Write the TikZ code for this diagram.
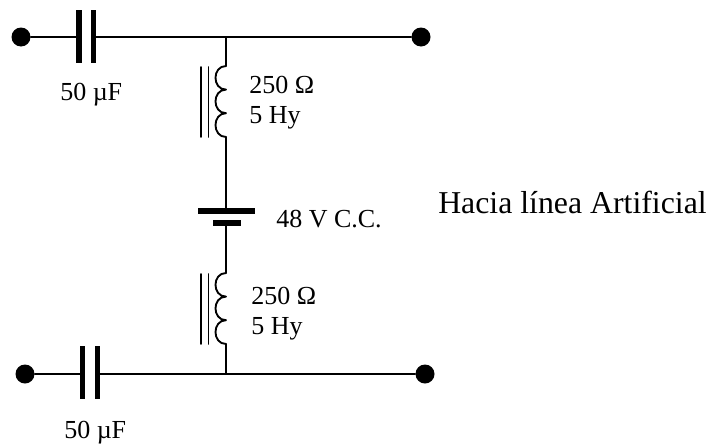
\documentclass[tikz,border=0pt]{standalone}
\usepackage{fontspec}
\setmainfont{Liberation Serif}
\tikzset{
    wire/.style={line width=1.4pt},
    term/.style={circle,fill=black,inner sep=0pt,minimum size=14.25pt},
    capplate/.style={rectangle,fill=black,inner sep=0pt,minimum width=3.9pt,minimum height=39.75pt},
    batplate/.style={rectangle,fill=black,inner sep=0pt,minimum height=3.9pt},
    lab/.style={anchor=base west,inner sep=0pt,font=\fontsize{19.5}{22}\selectfont}
}
\begin{document}
\begin{tikzpicture}[x=0.75pt,y=-0.75pt,line cap=round,line join=round]
    \useasboundingbox(0,0)rectangle(714,443);
    % terminals and capacitors
    \node[term](tl)at(21,37){};
    \node[term](tr)at(421,37){};
    \node[term](bl)at(25,374){};
    \node[term](br)at(425,374){};
    \node[capplate](ca1)at(79,36){};
    \node[capplate](ca2)at(93.5,36){};
    \node[capplate](cb1)at(82.5,372.5){};
    \node[capplate](cb2)at(97.5,372.5){};
    \coordinate(jt)at(226,37);
    \coordinate(jb)at(226,374);
    \draw[wire](tl)--(tl-|ca1.west)(tr-|ca2.east)--(tr);
    \draw[wire](bl)--(bl-|cb1.west)(br-|cb2.east)--(br);
    % battery
    \node[batplate,minimum width=42.75pt](bat1)at(226.5,211){};
    \node[batplate,minimum width=21pt](bat2)at(227,223){};
    % inductors, cusps at the wire
    \foreach \n/\ya/\xc in{a/66/226,b/273/226}{
        \coordinate(l\n1)at(\xc,\ya);
        \coordinate(l\n2)at(\xc,\ya+23.6);
        \coordinate(l\n3)at(\xc,\ya+47.2);
        \coordinate(l\n4)at(\xc,\ya+71);
        \draw[wire](l\n1)..controls+(-14,0) and +(-14,0)..(l\n2)..controls+(-14,0) and +(-14,0)..(l\n3)..controls+(-14,0) and +(-14,0)..(l\n4);
        \draw[wire](200.7,\ya+1)--(200.7,\ya+71)(208.5,\ya+1)--(208.5,\ya+71);
    }
    \draw[wire](jt)--(la1)(la4)--(bat1.north-|la4);
    \draw[wire](bat2.south-|lb1)--(lb1)(lb4)--(jb);
    % labels
    \foreach \nm/\x/\y/\t in{capa/60/100/50 µF,capb/64/438/50 µF,ra/249/93/250 Ω,ha/249/123/5 Hy,rb/251/304/250 Ω,hb/251/334/5 Hy,bat/276/227/48 V C.C.}
    \node[lab](\nm)at(\x,\y){\t};
    \node[lab,font=\fontsize{23.85}{26}\selectfont](lin)at(438,213){Hacia línea Artificial};
\end{tikzpicture}
\end{document}
